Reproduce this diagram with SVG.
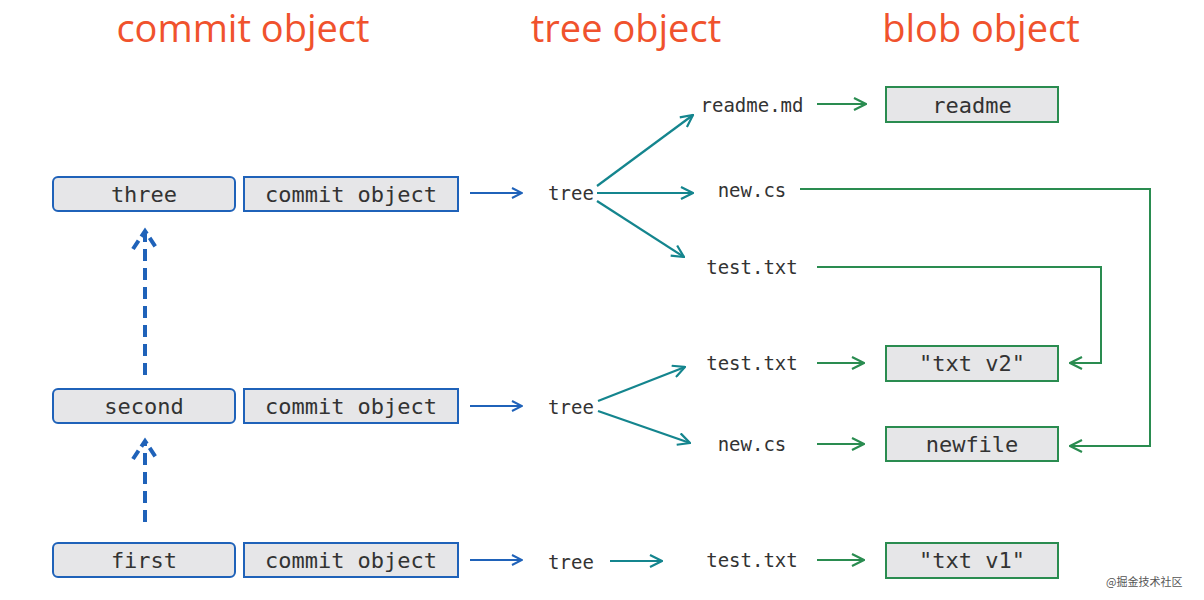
<svg xmlns="http://www.w3.org/2000/svg" width="1204" height="600" viewBox="0 0 1204 600">
<style>
.title{font-family:"Open Sans","Noto Sans",sans-serif;font-size:38px;fill:#f0522d;text-anchor:middle}
.mono{font-family:"DejaVu Sans Mono","Liberation Mono",monospace;font-size:22px;fill:#333;text-anchor:middle;dominant-baseline:central}
.sm{font-size:19px}
.cbox{fill:#e6e6e8;stroke:#1f62b9;stroke-width:2}
.bbox{fill:#e6e6e8;stroke:#2a8c50;stroke-width:2}
.blue{stroke:#1f62b9;stroke-width:2;fill:none;marker-end:url(#ab)}
.teal{stroke:#14858e;stroke-width:2.2;fill:none;marker-end:url(#at)}
.green{stroke:#2a8c50;stroke-width:2;fill:none;marker-end:url(#ag)}
.dash{stroke:#1f62b9;stroke-width:4;fill:none;stroke-dasharray:12,7}
.dhead{stroke:#1f62b9;stroke-width:4;fill:none;stroke-dasharray:10,5}
.wm{font-family:"Noto Sans CJK SC",sans-serif;font-size:11px;fill:#555}
</style>
<defs>
<marker id="ab" viewBox="0 0 12 12" refX="11" refY="6" markerWidth="12" markerHeight="12" markerUnits="userSpaceOnUse" orient="auto"><path d="M1,1 L11,6 L1,11" fill="none" stroke="#1f62b9" stroke-width="2"/></marker>
<marker id="at" viewBox="0 0 14 14" refX="13" refY="7" markerWidth="14" markerHeight="14" markerUnits="userSpaceOnUse" orient="auto"><path d="M1,1 L13,7 L1,13" fill="none" stroke="#14858e" stroke-width="2.2"/></marker>
<marker id="ag" viewBox="0 0 14 14" refX="13" refY="7" markerWidth="14" markerHeight="14" markerUnits="userSpaceOnUse" orient="auto"><path d="M1,1 L13,7 L1,13" fill="none" stroke="#2a8c50" stroke-width="2.2"/></marker>
</defs>
<rect width="1204" height="600" fill="#fff"/>
<g id="titles">
<text class="title" x="243" y="42">commit object</text>
<text class="title" x="626" y="42">tree object</text>
<text class="title" x="981" y="42">blob object</text>
</g>
<g id="commit-three"><rect class="cbox" x="53" y="177" width="182" height="34" rx="5"/><text class="mono" x="144" y="194">three</text></g>
<g id="commit-three-obj"><rect class="cbox" x="244" y="177" width="214" height="34"/><text class="mono" x="351" y="194">commit object</text></g>
<g id="commit-second"><rect class="cbox" x="53" y="389" width="182" height="34" rx="5"/><text class="mono" x="144" y="406">second</text></g>
<g id="commit-second-obj"><rect class="cbox" x="244" y="389" width="214" height="34"/><text class="mono" x="351" y="406">commit object</text></g>
<g id="commit-first"><rect class="cbox" x="53" y="543" width="182" height="34" rx="5"/><text class="mono" x="144" y="560">first</text></g>
<g id="commit-first-obj"><rect class="cbox" x="244" y="543" width="214" height="34"/><text class="mono" x="351" y="560">commit object</text></g>
<g id="tree3"><text class="mono sm" x="571" y="193">tree</text></g>
<g id="tree2"><text class="mono sm" x="571" y="407">tree</text></g>
<g id="tree1"><text class="mono sm" x="571" y="562">tree</text></g>
<g id="f-readme"><text class="mono sm" x="752" y="105">readme.md</text></g>
<g id="f-newcs3"><text class="mono sm" x="752" y="190">new.cs</text></g>
<g id="f-test3"><text class="mono sm" x="752" y="267">test.txt</text></g>
<g id="f-test2"><text class="mono sm" x="752" y="363">test.txt</text></g>
<g id="f-newcs2"><text class="mono sm" x="752" y="444">new.cs</text></g>
<g id="f-test1"><text class="mono sm" x="752" y="560">test.txt</text></g>
<g id="b-readme"><rect class="bbox" x="886" y="87" width="172" height="35"/><text class="mono" x="972" y="105">readme</text></g>
<g id="b-v2"><rect class="bbox" x="886" y="346" width="172" height="35"/><text class="mono" x="972" y="363">"txt v2"</text></g>
<g id="b-newfile"><rect class="bbox" x="886" y="427" width="172" height="34"/><text class="mono" x="972" y="444">newfile</text></g>
<g id="b-v1"><rect class="bbox" x="886" y="543" width="172" height="35"/><text class="mono" x="972" y="560">"txt v1"</text></g>
<g id="connectors">
<path class="blue" d="M470,193 H522"/>
<path class="blue" d="M470,406 H522"/>
<path class="blue" d="M470,560 H522"/>
<path class="dash" d="M145,375 V234"/>
<path class="dhead" d="M133,249 L145,231 L157,249"/>
<path class="dash" d="M145,522 V444"/>
<path class="dhead" d="M133,459 L145,441 L157,459"/>
<path class="teal" d="M597,186 L693,115"/>
<path class="teal" d="M597,193 H693"/>
<path class="teal" d="M597,201 L684,257"/>
<path class="teal" d="M598,401 L685,367"/>
<path class="teal" d="M598,411 L690,443"/>
<path class="teal" d="M610,561 H662"/>
<path class="green" d="M817,104 H866"/>
<path class="green" d="M817,363 H864"/>
<path class="green" d="M817,444 H864"/>
<path class="green" d="M817,560 H864"/>
<path class="green" d="M800,189 H1150 V446 H1070"/>
<path class="green" d="M817,267 H1101 V363 H1070"/>
</g>
<text class="wm" x="1106" y="586">@掘金技术社区</text>
</svg>
